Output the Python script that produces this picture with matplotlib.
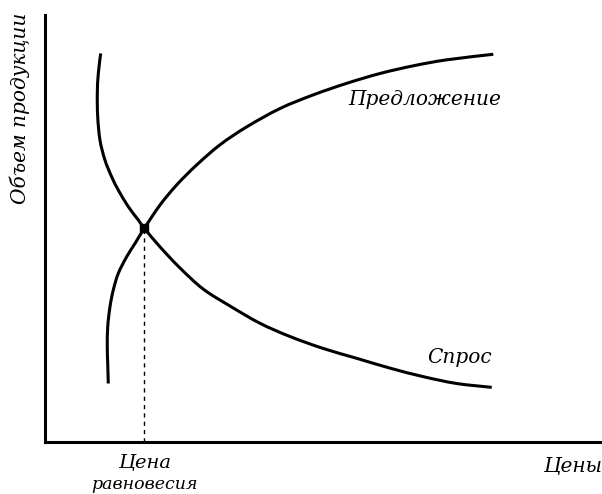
import matplotlib.pyplot as plt
from matplotlib.path import Path
from matplotlib.patches import PathPatch

# кривая спроса (цена, объем)
demand_price = [10.0, 9.57, 9.39, 9.46, 9.87, 10.77, 11.97, 13.16, 14.96, 16.75, 17.83,
                20.65, 24.24, 28.42, 33.21, 38.60, 43.99, 49.96, 55.96, 61.94, 67.92,
                73.91, 80.20]
demand_qty = [91.0, 86.3, 81.7, 76.2, 70.7, 66.0, 62.1, 59.0, 55.1, 52.0, 50.05,
              45.7, 40.75, 35.8, 31.85, 27.8, 24.7, 21.9, 19.6, 17.3, 15.3,
              13.7, 12.8]

# кривая предложения
supply_price = [11.36, 11.26, 11.18, 11.26, 11.67, 12.26, 13.16, 14.67, 16.16, 17.83,
                20.65, 23.64, 27.24, 31.42, 36.21, 42.19, 48.17, 54.17, 60.14,
                66.12, 72.12, 80.48]
supply_qty = [13.7, 18.4, 22.3, 27.0, 31.7, 35.6, 39.5, 43.4, 46.5, 50.05,
              55.5, 60.2, 64.9, 69.6, 73.8, 78.1, 81.3, 84.0, 86.3,
              88.1, 89.5, 90.8]

eq_price, eq_qty = 17.83, 50.05


def smooth_path(xs, ys):
    # кубические кривые Безье через точки (Catmull-Rom)
    pts = list(zip(xs, ys))
    verts = [pts[0]]
    codes = [Path.MOVETO]
    for i in range(len(pts) - 1):
        p0 = pts[max(i - 1, 0)]
        p1 = pts[i]
        p2 = pts[i + 1]
        p3 = pts[min(i + 2, len(pts) - 1)]
        c1 = (p1[0] + (p2[0] - p0[0]) / 6, p1[1] + (p2[1] - p0[1]) / 6)
        c2 = (p2[0] - (p3[0] - p1[0]) / 6, p2[1] - (p3[1] - p1[1]) / 6)
        verts += [c1, c2, p2]
        codes += [Path.CURVE4] * 3
    return Path(verts, codes)


font = dict(family='DejaVu Serif', style='italic', color='black')

fig = plt.figure(figsize=(6.02, 4.94), dpi=100)
ax = fig.add_axes([45 / 602, 52 / 494, 557 / 602, 427 / 494])
ax.set_xlim(0, 100)
ax.set_ylim(0, 100)

for xs, ys in [(demand_price, demand_qty), (supply_price, supply_qty)]:
    ax.add_patch(PathPatch(smooth_path(xs, ys), fill=False, edgecolor='black',
                           lw=2.2, capstyle='butt'))
ax.plot([eq_price, eq_price], [0, eq_qty], color='black', lw=1, ls=(0, (3, 3)))
ax.plot(eq_price, eq_qty, 's', color='black', ms=6)

ax.text(54.4, 80.1, 'Предложение', fontsize=14.5, ha='left', va='center', **font)
ax.text(68.6, 19.9, 'Спрос', fontsize=14.5, ha='left', va='center', **font)
ax.text(eq_price, -4.9, 'Цена', fontsize=14, ha='center', va='center', clip_on=False, **font)
ax.text(eq_price, -9.9, 'равновесия', fontsize=12.5, ha='center', va='center', clip_on=False, **font)

fig.text(1.0, 28 / 494, 'Цены', fontsize=14.5, ha='right', va='center', **font)
fig.text(20 / 602, 386 / 494, 'Объем продукции', fontsize=14.5, rotation=90,
         ha='center', va='center', **font)

for side in ['top', 'right']:
    ax.spines[side].set_visible(False)
for side in ['left', 'bottom']:
    ax.spines[side].set_linewidth(2.2)
ax.set_xticks([])
ax.set_yticks([])

fig.savefig('out.png', dpi=100)
